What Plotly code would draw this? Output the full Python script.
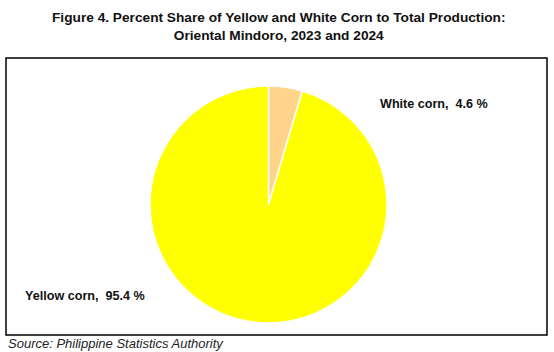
import plotly.graph_objects as go

categories = ["White corn", "Yellow corn"]
shares = [4.6, 95.4]
colors = ["#FFD38A", "#FFFF00"]
title_lines = ["Figure 4. Percent Share of Yellow and White Corn to Total Production:",
               "Oriental Mindoro, 2023 and 2024"]
source_text = "Source: Philippine Statistics Authority"

W, H = 554, 352
cx, cy, r = 268.5, 204.5, 118.5

def px(x):
    return x / W

def py(y):
    return 1 - y / H

fig = go.Figure(go.Pie(
    labels=categories, values=shares, sort=False, direction="clockwise", rotation=0,
    marker=dict(colors=colors, line=dict(color="white", width=1.5)),
    textinfo="none", hoverinfo="label+percent", showlegend=False,
    domain=dict(x=[px(cx - r), px(cx + r)], y=[py(cy + r), py(cy - r)]),
))

label_pos = [(378, 104), (23, 296)]
annotations = []
for cat, val, (lx, ly) in zip(categories, shares, label_pos):
    annotations.append(dict(
        text=f"<b>{cat},&nbsp; {val} %</b>", x=px(lx), y=py(ly), xref="paper", yref="paper",
        xanchor="left", yanchor="middle", showarrow=False,
        font=dict(family="Liberation Sans, Arial", size=12.6, color="#111111"),
    ))
annotations.append(dict(
    text="<b>" + "<br>".join(title_lines) + "</b>", x=px(279), y=py(27), xref="paper", yref="paper",
    xanchor="center", yanchor="middle", showarrow=False,
    font=dict(family="Liberation Sans, Arial", size=13.7, color="#111111"),
))
annotations.append(dict(
    text=f"<i>{source_text}</i>", x=px(6), y=py(343), xref="paper", yref="paper",
    xanchor="left", yanchor="middle", showarrow=False,
    font=dict(family="Liberation Sans, Arial", size=13, color="#222222"),
))

fig.update_layout(
    width=W, height=H, margin=dict(l=0, r=0, t=0, b=0),
    paper_bgcolor="white", plot_bgcolor="white",
    annotations=annotations,
    shapes=[dict(type="rect", xref="paper", yref="paper",
                 x0=px(6), x1=px(547), y0=py(335), y1=py(58),
                 line=dict(color="black", width=1.5))],
)

fig.write_html("out.html")
